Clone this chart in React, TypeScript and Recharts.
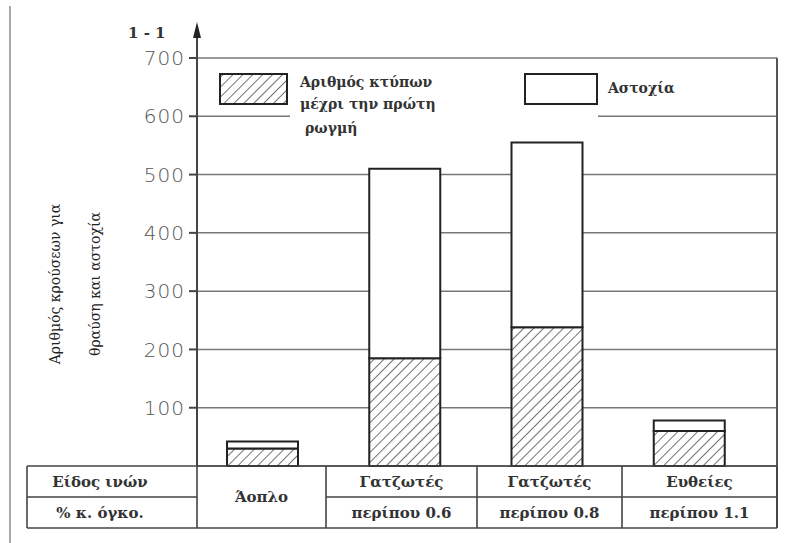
import React from 'react'
import { BarChart, Bar, XAxis, YAxis, CartesianGrid } from 'recharts'

const categories = ['Άοπλο', 'Γατζωτές 0.6', 'Γατζωτές 0.8', 'Ευθείες']
const fiberTypes = ['Άοπλο', 'Γατζωτές', 'Γατζωτές', 'Ευθείες']
const fiberVolumes = ['', 'περίπου 0.6', 'περίπου 0.8', 'περίπου 1.1']
const firstCrack = [30, 185, 238, 60]
const failureExtra = [12, 325, 317, 18]
const yTicks = [100, 200, 300, 400, 500, 600, 700]

const W = 791
const H = 543
const SERIF = '"DejaVu Serif", "Liberation Serif", serif'

// table column edges (layout only)
const colEdges = [197, 326, 477, 622, 777]

const data = categories.map((name, i) => ({
  name,
  crack: firstCrack[i],
  extra: failureExtra[i],
}))

function Overlay() {
  return (
    <svg width={W} height={H} style={{ position: 'absolute', left: 0, top: 0, pointerEvents: 'none' }}>
      {/* outer left frame */}
      <line x1={10} y1={6} x2={10} y2={543} stroke="#aaa" strokeWidth={2} />

      {/* axis extension + arrow */}
      <line x1={197} y1={34} x2={197} y2={58} stroke="#444" strokeWidth={2} />
      <polygon points="193,38 197,22 201,38" fill="#222" />
      <text x={128} y={38} fontFamily={SERIF} fontWeight="bold" fontSize={15} fill="#333">1 - 1</text>

      {/* right border */}
      <line x1={777} y1={58} x2={777} y2={528} stroke="#555" strokeWidth={2} />

      {/* y-axis title */}
      <g fontFamily={SERIF} fontSize={14} fill="#222">
        <text transform="translate(60,284) rotate(-90)" textAnchor="middle">Αριθμός κρούσεων για</text>
        <text transform="translate(100,284) rotate(-90)" textAnchor="middle">θραύση και αστοχία</text>
      </g>

      {/* legend */}
      <rect x={290} y={108} width={308} height={22} fill="#fff" />
      <rect x={220} y={74} width={67} height={30} fill="url(#hatch)" stroke="#222" strokeWidth={2} />
      <g fontFamily={SERIF} fontWeight="bold" fontSize={14} fill="#333">
        <text x={300} y={87}>Αριθμός κτύπων</text>
        <text x={300} y={109}>μέχρι την πρώτη</text>
        <text x={305} y={133}>ρωγμή</text>
      </g>
      <rect x={525} y={74} width={72} height={30} fill="#fff" stroke="#222" strokeWidth={2} />
      <text x={608} y={93} fontFamily={SERIF} fontWeight="bold" fontSize={14} fill="#333">Αστοχία</text>

      {/* table */}
      <g stroke="#444" strokeWidth={1.6}>
        <line x1={27} y1={466} x2={777} y2={466} />
        <line x1={27} y1={497} x2={197} y2={497} />
        <line x1={colEdges[1]} y1={497} x2={777} y2={497} />
        <line x1={27} y1={528} x2={777} y2={528} />
        <line x1={27} y1={466} x2={27} y2={528} />
        {colEdges.map((x) => (
          <line key={x} x1={x} y1={466} x2={x} y2={528} />
        ))}
      </g>
      <g fontFamily={SERIF} fontWeight="bold" fontSize={15} fill="#333" textAnchor="middle">
        <text x={100} y={487}>Είδος ινών</text>
        <text x={100} y={518}>% κ. όγκο.</text>
        {fiberTypes.map((t, i) => {
          const cx = (colEdges[i] + colEdges[i + 1]) / 2
          const twoRows = fiberVolumes[i] !== ''
          return (
            <g key={i}>
              <text x={cx} y={twoRows ? 487 : 502}>{t}</text>
              {twoRows && <text x={cx} y={518}>{fiberVolumes[i]}</text>}
            </g>
          )
        })}
      </g>
    </svg>
  )
}

export default function App() {
  return (
    <div style={{ position: 'absolute', left: 0, top: 0, width: W, height: H, background: '#fff' }}>
      <svg width={0} height={0} style={{ position: 'absolute' }}>
        <defs>
          <pattern id="hatch" patternUnits="userSpaceOnUse" width={7} height={7} patternTransform="rotate(45)">
            <rect width={7} height={7} fill="#fff" />
            <line x1={0} y1={0} x2={0} y2={7} stroke="#444" strokeWidth={1.5} />
          </pattern>
        </defs>
      </svg>
      <BarChart width={W} height={H} data={data} margin={{ top: 58, right: 14, bottom: 77, left: 0 }}>
        <CartesianGrid vertical={false} stroke="#777" strokeWidth={1.5} />
        <XAxis dataKey="name" hide height={0} padding={{ left: -6, right: 17 }} />
        <YAxis
          width={197}
          domain={[0, 700]}
          ticks={yTicks}
          interval={0}
          axisLine={{ stroke: '#444', strokeWidth: 2 }}
          tickLine={{ stroke: '#444', strokeWidth: 2 }}
          tickSize={8}
          tickMargin={4}
          tick={{ fill: '#555', fontSize: 20, letterSpacing: 1, fontFamily: '"DejaVu Sans", sans-serif', fontWeight: 300 }}
        />
        <Bar dataKey="crack" stackId="a" barSize={71} fill="url(#hatch)" stroke="#222" strokeWidth={2} isAnimationActive={false} />
        <Bar dataKey="extra" stackId="a" barSize={71} fill="#fff" stroke="#222" strokeWidth={2} isAnimationActive={false} />
      </BarChart>
      <Overlay />
    </div>
  )
}
